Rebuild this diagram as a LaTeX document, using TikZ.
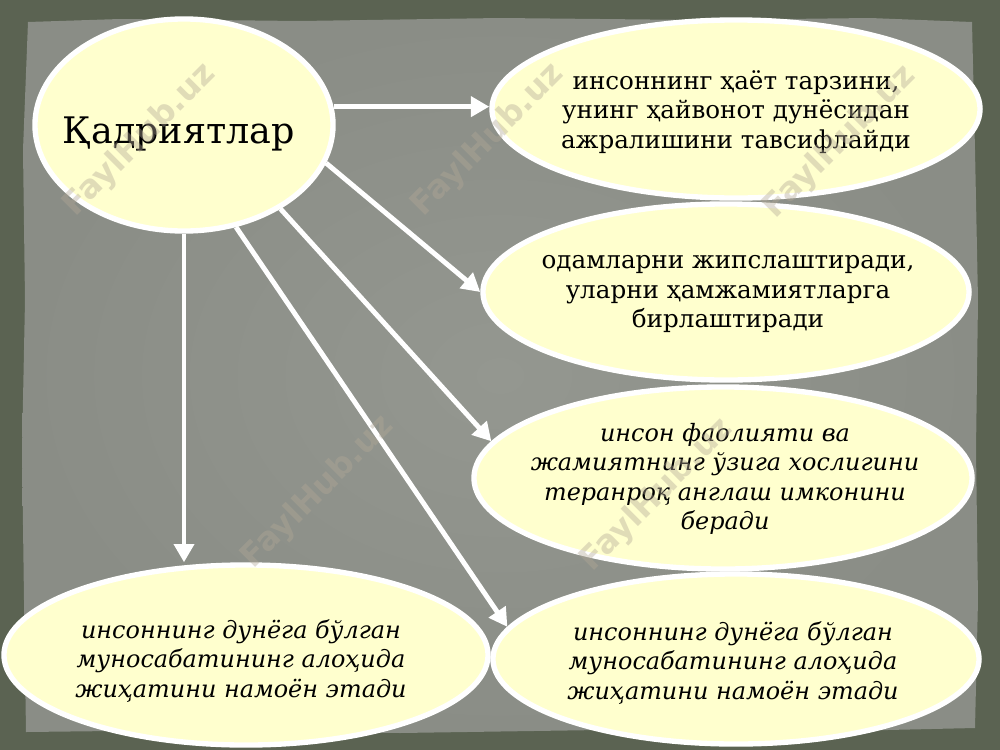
\documentclass[tikz,border=0pt]{standalone}
\usepackage{fontspec}
\setmainfont{DejaVu Serif}
\newfontfamily\wmfont{DejaVu Sans}
\usetikzlibrary{shapes.geometric,arrows.meta}
\definecolor{outerbg}{RGB}{91,99,82}
\definecolor{panelc}{RGB}{138,141,134}
\definecolor{panelin}{RGB}{148,151,144}
\definecolor{ellfill}{RGB}{255,255,206}
\definecolor{wmc}{RGB}{178,168,150}
\tikzset{
  ell/.style={ellipse, draw=white, line width=3.8pt, fill=ellfill, inner sep=0pt},
  txt/.style={align=center, inner sep=0pt, text=black, font=\fontsize{17.5}{21}\selectfont},
  itxt/.style={txt, font=\fontsize{17}{21}\selectfont\itshape},
  arr/.style={draw=white, line width=3.5pt, -{Triangle[length=13pt,width=14pt]}},
  wm/.style={rotate=45, text=wmc, opacity=0.4, inner sep=0pt, font=\wmfont\bfseries\fontsize{23}{23}\selectfont}
}
\begin{document}
\begin{tikzpicture}[x=0.025cm,y=-0.025cm]
\useasboundingbox (0,0) rectangle (1000,750);
\fill[outerbg] (0,0) rectangle (1000,750);
\path[inner color=panelin, outer color=panelc]
  (28,22) -- (120,19) -- (300,21) -- (500,18) -- (700,20) -- (870,18) -- (972,22)
  -- (975,150) -- (978,300) -- (976,450) -- (978,600) -- (975,728)
  -- (800,732) -- (600,730) -- (400,733) -- (200,730) -- (26,732)
  -- (24,600) -- (22,450) -- (25,300) -- (23,150) -- cycle;

\node[ell, minimum width=7.45cm, minimum height=5.3cm] (A) at (184,125) {};
\node[ell, minimum width=12.2cm, minimum height=4.45cm] (B) at (736,109) {};
\node[ell, minimum width=12.15cm, minimum height=4.4cm] (C) at (726,292) {};
\node[ell, minimum width=12.45cm, minimum height=4.55cm] (D) at (723,478) {};
\node[ell, minimum width=12.1cm, minimum height=4.5cm] (E) at (246,655) {};
\node[ell, minimum width=12.15cm, minimum height=4.25cm] (F) at (736,659) {};

\node[anchor=base, inner sep=0pt, font=\fontsize{26}{30}\selectfont] (At) at (179,143) {Қадриятлар};
\node[txt] (Bt) at (736,112) {инсоннинг ҳаёт тарзини,\\унинг ҳайвонот дунёсидан\\ажралишини тавсифлайди};
\node[txt] (Ct) at (728,294) {одамларни жипслаштиради,\\уларни ҳамжамиятларга\\бирлаштиради};
\node[itxt] (Dt) at (725,479) {инсон фаолияти ва\\жамиятнинг ўзига хослигини\\теранроқ англаш имконини\\беради};
\node[itxt] (Et) at (241,661) {инсоннинг дунёга бўлган\\муносабатининг алоҳида\\жиҳатини намоён этади};
\node[itxt] (Ft) at (733,663) {инсоннинг дунёга бўлган\\муносабатининг алоҳида\\жиҳатини намоён этади};

\draw[arr] (A.7) -- (A.7 -| B.west);
\draw[arr] (A.-15.5) -- (C.west);
\draw[arr] (A.-41.6) -- (D.171);
\draw[arr] (A.-63.6) -- (F.172);
\draw[arr] (A.south) -- (A.south |- E.north);

\node[wm] (w1) at (140,140) {FaylHub.uz};
\node[wm] (w2) at (488,140) {FaylHub.uz};
\node[wm] (w3) at (840,142) {FaylHub.uz};
\node[wm] (w4) at (318,492) {FaylHub.uz};
\node[wm] (w5) at (657,495) {FaylHub.uz};
\end{tikzpicture}
\end{document}
